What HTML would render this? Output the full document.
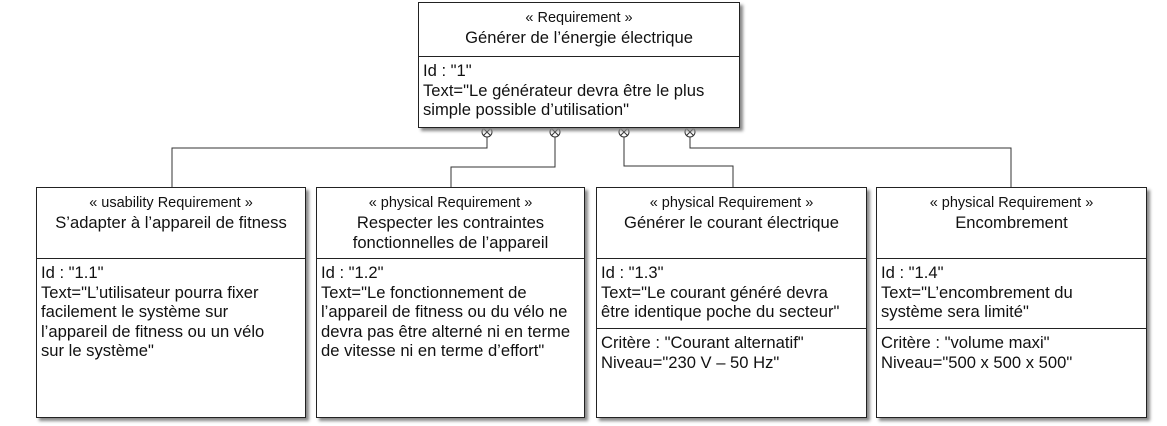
<!DOCTYPE html>
<html><head><meta charset="utf-8"><style>
body{margin:0;width:1167px;height:426px;background:#fff;position:relative;overflow:hidden;font-family:"Liberation Sans",sans-serif;font-size:16.6px;color:#111}
.b{position:absolute;border:1px solid #222;background:#fff;box-shadow:3px 3px 3px #888;box-sizing:border-box}
.h{text-align:center;border-bottom:1px solid #222;box-sizing:border-box;line-height:20px;padding-top:4px}
.s{font-size:14.5px}
.c{padding:4px 4px 1px;line-height:19.5px;white-space:nowrap;box-sizing:border-box}
.d{border-top:1.5px solid #222}
svg{position:absolute;left:0;top:0}
</style></head><body>
<svg width="1167" height="426">
<g fill="none" stroke="#333" stroke-width="1">
<polyline points="487,137 487,148 172,148 172,187"/>
<polyline points="555,137 555,167 451,167 451,187"/>
<polyline points="624,137 624,166 733,166 733,187"/>
<polyline points="690,137 690,148 1011,148 1011,187"/>
<g>
<circle cx="487" cy="132" r="5"/><path d="M483.5,128.5 490.5,135.5 M490.5,128.5 483.5,135.5"/>
<circle cx="555" cy="132" r="5"/><path d="M551.5,128.5 558.5,135.5 M558.5,128.5 551.5,135.5"/>
<circle cx="624" cy="132" r="5"/><path d="M620.5,128.5 627.5,135.5 M627.5,128.5 620.5,135.5"/>
<circle cx="690" cy="132" r="5"/><path d="M686.5,128.5 693.5,135.5 M693.5,128.5 686.5,135.5"/>
</g></g></svg>
<div class="b" style="left:418px;top:2px;width:322px;height:126px">
<div class="h" style="height:54px"><span class="s">« Requirement »</span><br>Générer de l’énergie électrique</div>
<div class="c">Id : "1"<br>Text="Le générateur devra être le plus<br>simple possible d’utilisation"</div></div>

<div class="b" style="left:36px;top:187px;width:270px;height:231px">
<div class="h" style="height:71px"><span class="s">« usability Requirement »</span><br>S’adapter à l’appareil de fitness</div>
<div class="c">Id : "1.1"<br>Text="L’utilisateur pourra fixer<br>facilement le système sur<br>l’appareil de fitness ou un vélo<br>sur le système"</div></div>

<div class="b" style="left:316px;top:187px;width:269px;height:231px">
<div class="h" style="height:71px"><span class="s">« physical Requirement »</span><br>Respecter les contraintes<br>fonctionnelles de l’appareil</div>
<div class="c">Id : "1.2"<br>Text="Le fonctionnement de<br>l’appareil de fitness ou du vélo ne<br>devra pas être alterné ni en terme<br>de vitesse ni en terme d’effort"</div></div>

<div class="b" style="left:596px;top:187px;width:271px;height:231px">
<div class="h" style="height:71px"><span class="s">« physical Requirement »</span><br>Générer le courant électrique</div>
<div class="c" style="height:69px">Id : "1.3"<br>Text="Le courant généré devra<br>être identique poche du secteur"</div>
<div class="c d">Critère : "Courant alternatif"<br>Niveau="230 V – 50 Hz"</div></div>

<div class="b" style="left:876px;top:187px;width:271px;height:231px">
<div class="h" style="height:71px"><span class="s">« physical Requirement »</span><br>Encombrement</div>
<div class="c" style="height:69px">Id : "1.4"<br>Text="L’encombrement du<br>système sera limité"</div>
<div class="c d">Critère : "volume maxi"<br>Niveau="500 x 500 x 500"</div></div>
</body></html>
